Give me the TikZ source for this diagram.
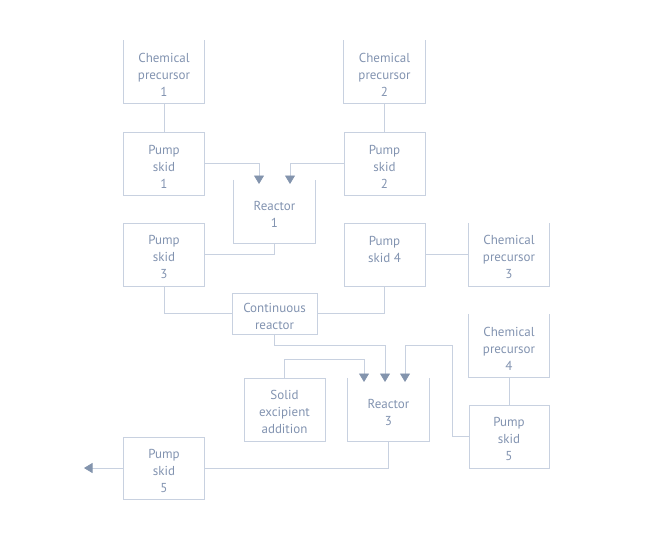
\documentclass[tikz,border=0pt]{standalone}
\usepackage{fontspec}
\setmainfont{PT Sans}
\usepackage{xcolor}
\usepackage{tikz}
\usetikzlibrary{calc}
\usetikzlibrary{arrows.meta}

\definecolor{linec}{HTML}{C8D1E0}
\definecolor{textc}{HTML}{8293B0}
\definecolor{tipc}{HTML}{8394AD}
% pushes a node's lines down a little
\newcommand{\lift}{\rule{0pt}{15pt}}

\begin{document}
\begin{tikzpicture}[x=1pt,y=-1pt,
  unit/.style={minimum width=81pt,minimum height=63pt,inner sep=0pt,align=center,
    text=textc,font=\fontsize{13}{17}\selectfont},
  box/.style={unit,draw=linec,line width=0.8pt},
  vessel/.style={unit},
  wall/.style={draw=linec,line width=0.8pt},
  pipe/.style={draw=linec,line width=0.8pt},
  feed/.style={pipe,-{Triangle[width=10pt,length=8.5pt,color=tipc]}}]
\useasboundingbox (0,0) rectangle (668,543);

% Feed lines 1 and 2
\node[vessel] (cp1) at (164,72) {\lift Chemical\\precursor\\1};
\node[box] (ps1) at (164,163.5) {\lift Pump\\skid\\1};
\node[vessel] (cp2) at (384.5,72) {\lift Chemical\\precursor\\2};
\node[box] (ps2) at (384.5,163.5) {\lift Pump\\skid\\2};
\node[vessel] (r1) at (274.5,211.5) {\lift Reactor\\1};

% Second stage
\node[box] (ps3) at (164,254.5) {\lift Pump\\skid\\3};
\node[box] (ps4) at (384.5,254.5) {\lift Pump\\skid 4\\\phantom{4}};
\node[vessel,minimum width=80pt] (cp3) at (509,254.5) {\lift Chemical\\precursor\\3};
\node[box,minimum width=85pt,minimum height=41pt] (cr) at (274.5,313.5) {\lift Continuous\\reactor};

% Final stage
\node[box] (se) at (284.5,409.5) {\lift Solid\\excipient\\addition};
\node[vessel] (r3) at (388.5,409.5) {\lift Reactor\\3};
\node[vessel,minimum width=80pt] (cp4) at (509,345.5) {\lift Chemical\\precursor\\4};
\node[box,minimum width=80pt] (ps5r) at (509,436.5) {\lift Pump\\skid\\5};
\node[box,minimum height=62pt] (ps5l) at (164,468) {\lift Pump\\skid\\5};

% open-top vessels
\foreach \n in {cp1,cp2,cp3,cp4,r1,r3}
  \draw[wall] (\n.north west) |- (\n.south east) -- (\n.north east);

\coordinate (in1a) at (259,184);
\coordinate (in1b) at (290,184);
\coordinate (in3a) at (364,382);
\coordinate (in3b) at (385,382);
\coordinate (in3c) at (405,382);
\coordinate (out) at (84,468);

\draw[pipe] (cp1.south) -- (ps1.north);
\draw[pipe] (cp2.south) -- (ps2.north);
\draw[feed] (ps1.east) -| (in1a);
\draw[feed] (ps2.west) -| (in1b);
\draw[pipe] (r1.south) |- (ps3.east);
\draw[pipe] (ps4.east) -- (cp3.west);
\draw[pipe] (ps3.south) |- (cr.west);
\draw[pipe] (ps4.south) |- (cr.east);
\draw[pipe] (cp4.south) -- (ps5r.north);

\draw[feed] (se.north) -- ++(0,-18) -| (in3a);
\draw[feed] (cr.south) -- ++(0,11) -| (in3b);
\draw[feed] (ps5r.west) -- ++(-16,0) |- ($(in3c)+(0,-37)$) -- (in3c);
\draw[pipe] (r3.south) |- (ps5l.east);
\draw[feed] (ps5l.west) -- (out);
\end{tikzpicture}
\end{document}
